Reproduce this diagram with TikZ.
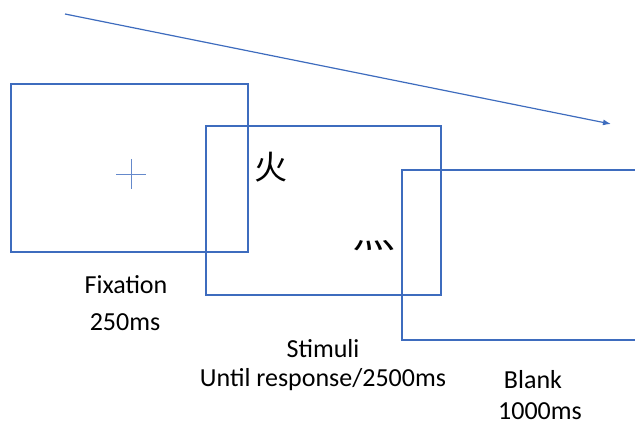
\documentclass[tikz,border=0pt]{standalone}
\usepackage{fontspec}
\setmainfont{Carlito}
\newfontfamily\cjk{Noto Sans CJK SC}
\usetikzlibrary{arrows.meta}
\definecolor{slideblue}{RGB}{62,108,190}

\begin{document}
\begin{tikzpicture}[x=1pt, y=-1pt,
            screen/.style={draw=slideblue, line width=1.3pt, rectangle, inner sep=0pt},
            caption/.style={font=\fontsize{26}{31}\selectfont, inner sep=0pt},
            glyph/.style={font=\cjk\fontsize{33}{33}\selectfont, inner sep=0pt}
        ]
        \clip (0,0) rectangle (635,425);

        % the three screens
        \node[screen, minimum width=237pt, minimum height=168pt] (fixbox) at (129.5,168) {};
        \node[screen, minimum width=235pt, minimum height=169pt] (stimbox) at (323.5,210.5) {};
        \node[screen, minimum width=260pt, minimum height=170pt] (blankbox) at (532,255) {};

        % fixation cross
        \coordinate (cross) at (131,174);
        \draw[slideblue!80, line width=0.9pt] (cross) ++(-15,0) -- ++(30,0);
        \draw[slideblue!80, line width=0.9pt] (cross) ++(0,-15) -- ++(0,30);

        % stimuli
        \node[glyph] (fire) at (271,167) {火};
        \node[glyph, xscale=1.3] (dots) at (374,246) {灬};

        % captions
        \node[caption] (fixlabel) at (126,285) {Fixation};
        \node[caption] (fixtime) at (125,322) {250ms};
        \node[caption] (stimlabel) at (323,349) {Stimuli};
        \node[caption] (stimtime) at (323,380) {Until response/2500ms};
        \node[caption] (blanklabel) at (533,380) {Blank};
        \node[caption] (blanktime) at (540,411) {1000ms};

        % time line
        \coordinate (tstart) at (65,14);
        \coordinate (tend) at (611,124);
        \draw[slideblue, line width=1.2pt, -{Latex[length=8pt,width=6pt]}] (tstart) -- (tend);

        \end{tikzpicture}
\end{document}
